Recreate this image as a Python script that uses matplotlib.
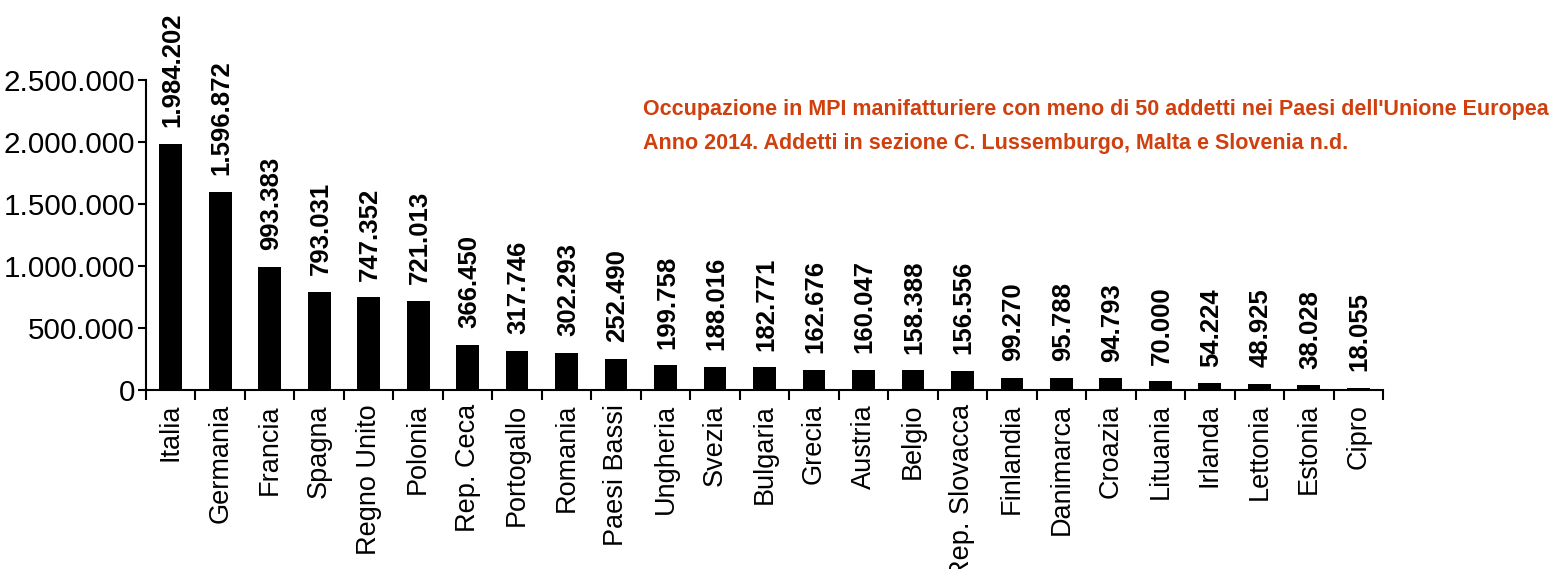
import matplotlib
matplotlib.use("Agg")
import matplotlib.pyplot as plt
from matplotlib.ticker import FuncFormatter, FixedLocator
from matplotlib import font_manager

paesi = ["Italia", "Germania", "Francia", "Spagna", "Regno Unito", "Polonia",
         "Rep. Ceca", "Portogallo", "Romania", "Paesi Bassi", "Ungheria", "Svezia",
         "Bulgaria", "Grecia", "Austria", "Belgio", "Rep. Slovacca", "Finlandia",
         "Danimarca", "Croazia", "Lituania", "Irlanda", "Lettonia", "Estonia", "Cipro"]
addetti = [1984202, 1596872, 993383, 793031, 747352, 721013, 366450, 317746,
           302293, 252490, 199758, 188016, 182771, 162676, 160047, 158388,
           156556, 99270, 95788, 94793, 70000, 54224, 48925, 38028, 18055]
yticks = [0, 500000, 1000000, 1500000, 2000000, 2500000]
titolo = ["Occupazione in MPI manifatturiere con meno di 50 addetti nei Paesi dell'Unione Europea",
          "Anno 2014. Addetti in sezione C. Lussemburgo, Malta e Slovenia n.d."]

def fmt(v):
    return f"{int(round(v)):,}".replace(",", ".")

names = {f.name for f in font_manager.fontManager.ttflist}
narrow = "Liberation Sans Narrow" if "Liberation Sans Narrow" in names else "Liberation Sans"
title_size = 15 if narrow == "Liberation Sans" else 18

plt.rcParams['font.family'] = ['Liberation Sans', 'DejaVu Sans']

fig = plt.figure(figsize=(15.59, 5.69), dpi=100)
ax = fig.add_axes([146/1559, 1 - 390/569, (1383 - 146)/1559, (390 - 80)/569])

x = list(range(len(paesi)))
ax.bar(x, addetti, width=0.46, color="black")
ax.set_xlim(-0.5, len(paesi) - 0.5)
ax.set_ylim(0, 2500000)

for xi, v in zip(x, addetti):
    ax.annotate(fmt(v), (xi, v), xytext=(1, 12), textcoords="offset points",
                rotation=90, ha="center", va="bottom", fontsize=18.5,
                fontweight="bold", color="black")

ax.set_yticks(yticks)
ax.yaxis.set_major_formatter(FuncFormatter(lambda v, p: fmt(v)))
ax.tick_params(axis="y", labelsize=21.3, length=6, width=1.5, direction="out", pad=2)

ax.set_xticks(x)
ax.set_xticklabels(paesi, rotation=90, fontsize=19.5)
ax.tick_params(axis="x", which="major", length=0, pad=10)
ax.xaxis.set_minor_locator(FixedLocator([i - 0.5 for i in range(len(paesi) + 1)]))
ax.tick_params(axis="x", which="minor", length=7, width=1.5, direction="out")

for s in ["top", "right"]:
    ax.spines[s].set_visible(False)
for s in ["left", "bottom"]:
    ax.spines[s].set_linewidth(1.5)

fig.text(643/1559, 1 - 110/569, titolo[0], color="#D0400E", fontsize=title_size + 0.5,
         fontweight="bold", family=[narrow, 'DejaVu Sans'], ha="left", va="center")
fig.text(643/1559, 1 - 143/569, titolo[1], color="#D0400E", fontsize=title_size + 0.5,
         fontweight="bold", family=[narrow, 'DejaVu Sans'], ha="left", va="center")

fig.savefig("out.png", dpi=100)
